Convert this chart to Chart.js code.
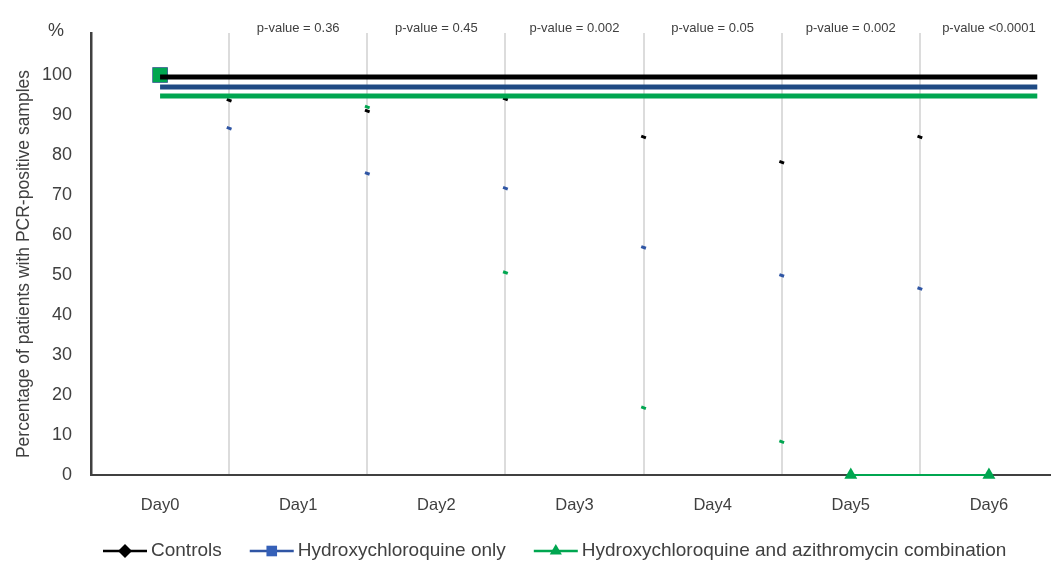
<!DOCTYPE html>
<html>
<head>
<meta charset="utf-8">
<script src="https://cdn.jsdelivr.net/npm/chart.js@4.4.1/dist/chart.umd.min.js"></script>
<style>
  html, body { margin: 0; padding: 0; background: #fff; overflow: hidden; }
  canvas { display: block; }
</style>
</head>
<body>
<canvas id="grafico" width="1058" height="562"></canvas>
<script>
// eixos e rótulos
const dias = ['Day0', 'Day1', 'Day2', 'Day3', 'Day4', 'Day5', 'Day6'];
const pValores = ['', 'p-value = 0.36', 'p-value = 0.45', 'p-value = 0.002', 'p-value = 0.05', 'p-value = 0.002', 'p-value <0.0001'];
const yTicks = [0, 10, 20, 30, 40, 50, 60, 70, 80, 90, 100];
const yMax = 110.5;
const tituloY = 'Percentage of patients with PCR-positive samples';

// séries
const series = ['Controls', 'Hydroxychloroquine only', 'Hydroxychloroquine and azithromycin combination'];
const cores = ['#000000', '#2f55a4', '#00a650'];
const marcadores = ['rectRot', 'rect', 'triangle'];

// pontos visíveis em cada dia
const controlsDia = [100, null, null, null, null, null, null];
const hcqDia = [100, null, null, null, null, null, null];
const comboDia = [100, null, null, null, null, 0, 0];

// pedaços das linhas que aparecem sobre a grade (entre os dias)
const posGrade = [0.5, 1.5, 2.5, 3.5, 4.5, 5.5];
const controlsGrade = [93.7, 91.0, 94.0, 84.5, 78.2, 84.5];
const hcqGrade = [86.7, 75.4, 71.7, 56.9, 49.9, 46.6];
const comboGrade = [null, 92.0, 50.6, 16.8, 8.3, null];

// faixas horizontais no topo
const faixaX = [0, 6.35];
const faixaNiveis = [99.5, 97.0, 94.75];

const FONTE = "'Liberation Sans', Arial, sans-serif";
const COR_TXT = '#404040';
Chart.defaults.font.family = FONTE;

const pedacos = (vals) => posGrade.map((x, i) => ({ x: x, y: vals[i] })).filter(p => p.y !== null);
const faixa = (nivel) => faixaX.map(x => ({ x: x, y: nivel }));

const dsFaixas = faixaNiveis.map((n, i) => ({
    label: 'faixa' + i, xAxisID: 'xl', data: faixa(n),
    borderColor: ['#000000', '#1f4a84', '#00a650'][i], borderWidth: 5,
    pointRadius: 0, fill: false
}));

const dsPedacos = [controlsGrade, hcqGrade, comboGrade].map((vals, i) => ({
    label: 'grade' + i, xAxisID: 'xl', data: pedacos(vals), showLine: false,
    pointStyle: 'line', pointRadius: 2.5, pointBorderWidth: 3, pointRotation: 20,
    borderColor: cores[i], backgroundColor: cores[i]
}));

const dsDias = [
    { label: series[2], xAxisID: 'x', data: comboDia, borderColor: cores[2], backgroundColor: cores[2], borderWidth: 2,
      pointStyle: ['rect', 'triangle', 'triangle', 'triangle', 'triangle', 'triangle', 'triangle'],
      pointRadius: [10, 0, 0, 0, 0, 7.5, 7.5], pointBorderWidth: 0, spanGaps: false, clip: false },
    { label: series[1], xAxisID: 'x', data: hcqDia, borderColor: cores[1], backgroundColor: '#1f4a84',
      pointStyle: 'rect', pointRadius: 11, pointBorderWidth: 0, clip: false },
    { label: series[0], xAxisID: 'x', data: controlsDia, borderColor: cores[0], backgroundColor: cores[0],
      pointStyle: 'rectRot', pointRadius: 7, pointBorderWidth: 0, clip: false }
];

const textos = {
    id: 'textos',
    afterDraw(chart) {
        const ctx = chart.ctx, x = chart.scales.x;
        ctx.save();
        ctx.fillStyle = COR_TXT;
        ctx.textBaseline = 'middle';
        ctx.textAlign = 'center';
        // p-values
        ctx.font = '13px ' + FONTE;
        pValores.forEach((t, i) => { if (t) ctx.fillText(t, x.getPixelForValue(i), 28); });
        // %
        ctx.font = '18px ' + FONTE;
        ctx.fillText('%', 56, 31);
        // título do eixo y
        ctx.save();
        ctx.translate(24, 264);
        ctx.rotate(-Math.PI / 2);
        ctx.font = '17.5px ' + FONTE;
        ctx.fillText(tituloY, 0, 0);
        ctx.restore();
        // legenda
        ctx.font = '19px ' + FONTE;
        ctx.textAlign = 'left';
        let lx = 103;
        const ly = 551;
        series.forEach((s, i) => {
            ctx.strokeStyle = cores[i];
            ctx.lineWidth = 2.5;
            ctx.beginPath(); ctx.moveTo(lx, ly); ctx.lineTo(lx + 44, ly); ctx.stroke();
            ctx.fillStyle = i === 1 ? '#3560b8' : cores[i];
            Chart.helpers.drawPoint(ctx, { pointStyle: marcadores[i], radius: i === 1 ? 7.5 : 7, rotation: 0, borderWidth: 0 }, lx + 22, ly);
            ctx.fillStyle = COR_TXT;
            ctx.fillText(s, lx + 48, ly);
            lx += 48 + ctx.measureText(s).width + 28;
        });
        ctx.restore();
    }
};

new Chart(document.getElementById('grafico'), {
    type: 'line',
    data: { labels: dias, datasets: [...dsFaixas, ...dsDias, ...dsPedacos] },
    options: {
        responsive: false,
        animation: false,
        layout: { autoPadding: false, padding: { top: 33, right: 0, bottom: 0, left: 0 } },
        plugins: { legend: { display: false }, tooltip: { enabled: false } },
        scales: {
            x: {
                type: 'category', offset: true,
                grid: { offset: true, color: '#dcdcdc', lineWidth: 2, drawTicks: false },
                border: { color: '#404040', width: 2 },
                ticks: { color: COR_TXT, font: { size: 16.5 }, padding: 21, maxRotation: 0 },
                afterFit: s => { s.height = 87; }
            },
            xl: { type: 'linear', display: false, min: -0.5, max: 6.5, ticks: { display: false } },
            y: {
                min: 0, max: yMax,
                grid: { display: false, drawTicks: false },
                border: { color: '#404040', width: 2.5 },
                ticks: { color: COR_TXT, font: { size: 18 }, padding: 19 },
                afterBuildTicks: s => { s.ticks = yTicks.map(v => ({ value: v })); },
                afterFit: s => { s.width = 91; }
            }
        }
    },
    plugins: [textos]
});
</script>
</body>
</html>
